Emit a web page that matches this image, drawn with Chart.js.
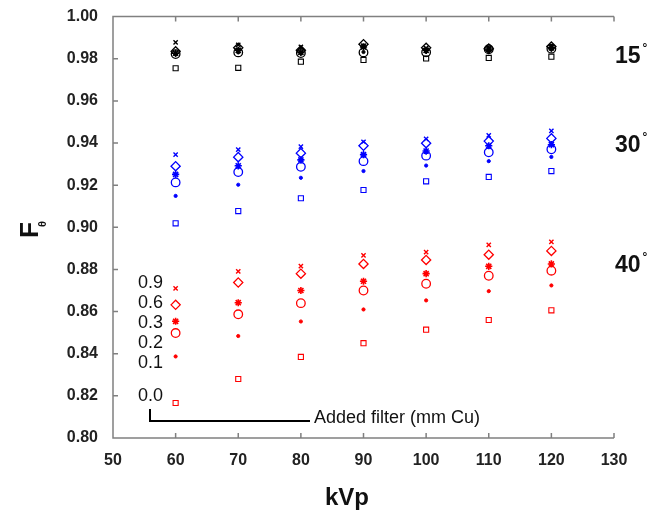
<!DOCTYPE html>
<html>
<head>
<meta charset="utf-8">
<script src="https://cdn.jsdelivr.net/npm/chart.js@4.4.1/dist/chart.umd.min.js"></script>
<style>
  html, body { margin: 0; padding: 0; background: #fff; }
  #wrap { width: 665px; height: 518px; }
</style>
</head>
<body>
<div id="wrap"><canvas id="chart" width="665" height="518"></canvas></div>
<script>
// tube voltage (kVp)
const kvp = [60, 70, 80, 90, 100, 110, 120];

// added filter thicknesses (mm Cu), same order as the marker list below
const filters = ["0.0", "0.1", "0.2", "0.3", "0.6", "0.9"];

// F_theta at 15 degrees
const a15_cu00 = [0.9755, 0.9757, 0.9786, 0.9794, 0.9801, 0.9804, 0.9810];
const a15_cu01 = [0.9822, 0.9830, 0.9827, 0.9832, 0.9834, 0.9844, 0.9846];
const a15_cu02 = [0.9822, 0.9830, 0.9827, 0.9830, 0.9831, 0.9845, 0.9848];
const a15_cu03 = [0.9826, 0.9840, 0.9830, 0.9856, 0.9840, 0.9846, 0.9852];
const a15_cu06 = [0.9835, 0.9852, 0.9840, 0.9869, 0.9852, 0.9848, 0.9858];
const a15_cu09 = [0.9878, 0.9866, 0.9856, 0.9862, 0.9850, 0.9852, 0.9858];

// F_theta at 30 degrees
const a30_cu00 = [0.9019, 0.9077, 0.9138, 0.9177, 0.9218, 0.9239, 0.9267];
const a30_cu01 = [0.9149, 0.9202, 0.9235, 0.9267, 0.9293, 0.9314, 0.9334];
const a30_cu02 = [0.9213, 0.9262, 0.9287, 0.9314, 0.9340, 0.9356, 0.9370];
const a30_cu03 = [0.9251, 0.9292, 0.9320, 0.9345, 0.9362, 0.9387, 0.9392];
const a30_cu06 = [0.9290, 0.9333, 0.9352, 0.9387, 0.9399, 0.9409, 0.9422];
const a30_cu09 = [0.9345, 0.9369, 0.9383, 0.9406, 0.9420, 0.9436, 0.9458];

// F_theta at 40 degrees
const a40_cu00 = [0.8166, 0.8280, 0.8385, 0.8450, 0.8514, 0.8560, 0.8606];
const a40_cu01 = [0.8387, 0.8484, 0.8553, 0.8610, 0.8653, 0.8697, 0.8724];
const a40_cu02 = [0.8498, 0.8587, 0.8640, 0.8700, 0.8732, 0.8770, 0.8794];
const a40_cu03 = [0.8554, 0.8642, 0.8700, 0.8744, 0.8780, 0.8815, 0.8826];
const a40_cu06 = [0.8632, 0.8738, 0.8780, 0.8826, 0.8845, 0.8870, 0.8888];
const a40_cu09 = [0.8710, 0.8791, 0.8816, 0.8867, 0.8882, 0.8917, 0.8931];

const yTicks = [0.80, 0.82, 0.84, 0.86, 0.88, 0.90, 0.92, 0.94, 0.96, 0.98, 1.00];
const xTicks = [50, 60, 70, 80, 90, 100, 110, 120, 130];

const angles = [
  { name: "15", color: "#000000", series: [a15_cu00, a15_cu01, a15_cu02, a15_cu03, a15_cu06, a15_cu09] },
  { name: "30", color: "#0000ff", series: [a30_cu00, a30_cu01, a30_cu02, a30_cu03, a30_cu06, a30_cu09] },
  { name: "40", color: "#ff0000", series: [a40_cu00, a40_cu01, a40_cu02, a40_cu03, a40_cu06, a40_cu09] }
];

// marker look for each filter (0.0 .. 0.9)
const markers = [
  { style: "rect",     radius: 3.6, width: 1.1, filled: false },
  { style: "circle",   radius: 1.6, width: 1,   filled: true  },
  { style: "circle",   radius: 4.3, width: 1.3, filled: false },
  { style: "star",     radius: 3.6, width: 1.6, filled: false },
  { style: "rectRot",  radius: 4.6, width: 1.3, filled: false },
  { style: "crossRot", radius: 3,   width: 1.4, filled: false }
];

const FONT = "'Liberation Sans', Arial, sans-serif";

function buildDatasets() {
  const out = [];
  angles.forEach(a => {
    a.series.forEach((vals, i) => {
      const m = markers[i];
      out.push({
        label: a.name + "° / " + filters[i],
        data: vals.map((v, k) => ({ x: kvp[k], y: v })),
        pointStyle: m.style,
        pointRadius: m.radius,
        pointBorderWidth: m.width,
        pointBorderColor: a.color,
        pointBackgroundColor: m.filled ? a.color : "rgba(0,0,0,0)",
        showLine: false
      });
    });
  });
  return out;
}

// frame with inward ticks, axis titles and the in-plot notes
const decorations = {
  id: "decorations",
  afterDraw(chart) {
    const ctx = chart.ctx;
    const { left, right, top, bottom } = chart.chartArea;
    const xs = chart.scales.x, ys = chart.scales.y;

    ctx.save();
    ctx.strokeStyle = "#808080";
    ctx.lineWidth = 1.5;
    ctx.beginPath();
    ctx.moveTo(right, top); ctx.lineTo(left, top);
    ctx.lineTo(left, bottom); ctx.lineTo(right, bottom);
    xTicks.forEach(t => {
      const px = xs.getPixelForValue(t);
      ctx.moveTo(px, bottom); ctx.lineTo(px, bottom - 5);
      ctx.moveTo(px, top); ctx.lineTo(px, top + 5);
    });
    yTicks.forEach(t => {
      const py = ys.getPixelForValue(t);
      ctx.moveTo(left, py); ctx.lineTo(left + 5, py);
    });
    ctx.stroke();

    // x title
    ctx.fillStyle = "#111";
    ctx.font = "bold 24px " + FONT;
    ctx.textAlign = "center";
    ctx.textBaseline = "middle";
    ctx.fillText("kVp", 347, 498);

    // y title: F with subscript theta
    ctx.save();
    ctx.translate(38, 238);
    ctx.rotate(-Math.PI / 2);
    ctx.textAlign = "left";
    ctx.textBaseline = "alphabetic";
    ctx.font = "bold 26px " + FONT;
    ctx.fillText("F", 0, 0);
    ctx.font = "bold 11px " + FONT;
    ctx.fillText("θ", 11, 8);
    ctx.restore();

    // angle labels on the right
    const angleY = [57, 146, 266];
    angles.forEach((a, i) => {
      ctx.font = "bold 23px " + FONT;
      ctx.textAlign = "left";
      ctx.textBaseline = "middle";
      ctx.fillText(a.name, 615, angleY[i]);
      const w = ctx.measureText(a.name).width;
      ctx.font = "bold 12px " + FONT;
      ctx.fillText("°", 615 + w + 2, angleY[i] - 8);
    });

    // filter legend inside the plot
    const noteY = [0.8735, 0.8641, 0.8547, 0.8449, 0.8355, 0.8201];
    const noteText = filters.slice().reverse();
    ctx.font = "18px " + FONT;
    ctx.textAlign = "right";
    ctx.textBaseline = "middle";
    noteText.forEach((t, i) => {
      ctx.fillText(t, 163, ys.getPixelForValue(noteY[i]));
    });

    ctx.strokeStyle = "#000";
    ctx.lineWidth = 2;
    ctx.beginPath();
    ctx.moveTo(150, 409);
    ctx.lineTo(150, 421);
    ctx.lineTo(310, 421);
    ctx.stroke();
    ctx.textAlign = "left";
    ctx.fillText("Added filter (mm Cu)", 314, 418);
    ctx.restore();
  }
};

const tickFont = { family: FONT, weight: "bold", size: 16 };

new Chart(document.getElementById("chart"), {
  type: "scatter",
  data: { datasets: buildDatasets() },
  options: {
    responsive: false,
    animation: false,
    layout: { padding: { top: 13, right: 51, left: 0, bottom: 0 } },
    plugins: { legend: { display: false }, tooltip: { enabled: false } },
    scales: {
      x: {
        type: "linear",
        min: 50, max: 130,
        afterBuildTicks: s => { s.ticks = xTicks.map(v => ({ value: v })); },
        ticks: { color: "#222", font: tickFont, padding: 5, maxRotation: 0 },
        grid: { display: false },
        border: { display: false },
        afterFit: s => { s.height = 80; }
      },
      y: {
        type: "linear",
        min: 0.8, max: 1.0,
        afterBuildTicks: s => { s.ticks = yTicks.map(v => ({ value: v })); },
        ticks: { color: "#222", font: tickFont, padding: 7, callback: v => v.toFixed(2) },
        grid: { display: false },
        border: { display: false },
        afterFit: s => { s.width = 113; }
      }
    }
  },
  plugins: [decorations]
});
</script>
</body>
</html>
